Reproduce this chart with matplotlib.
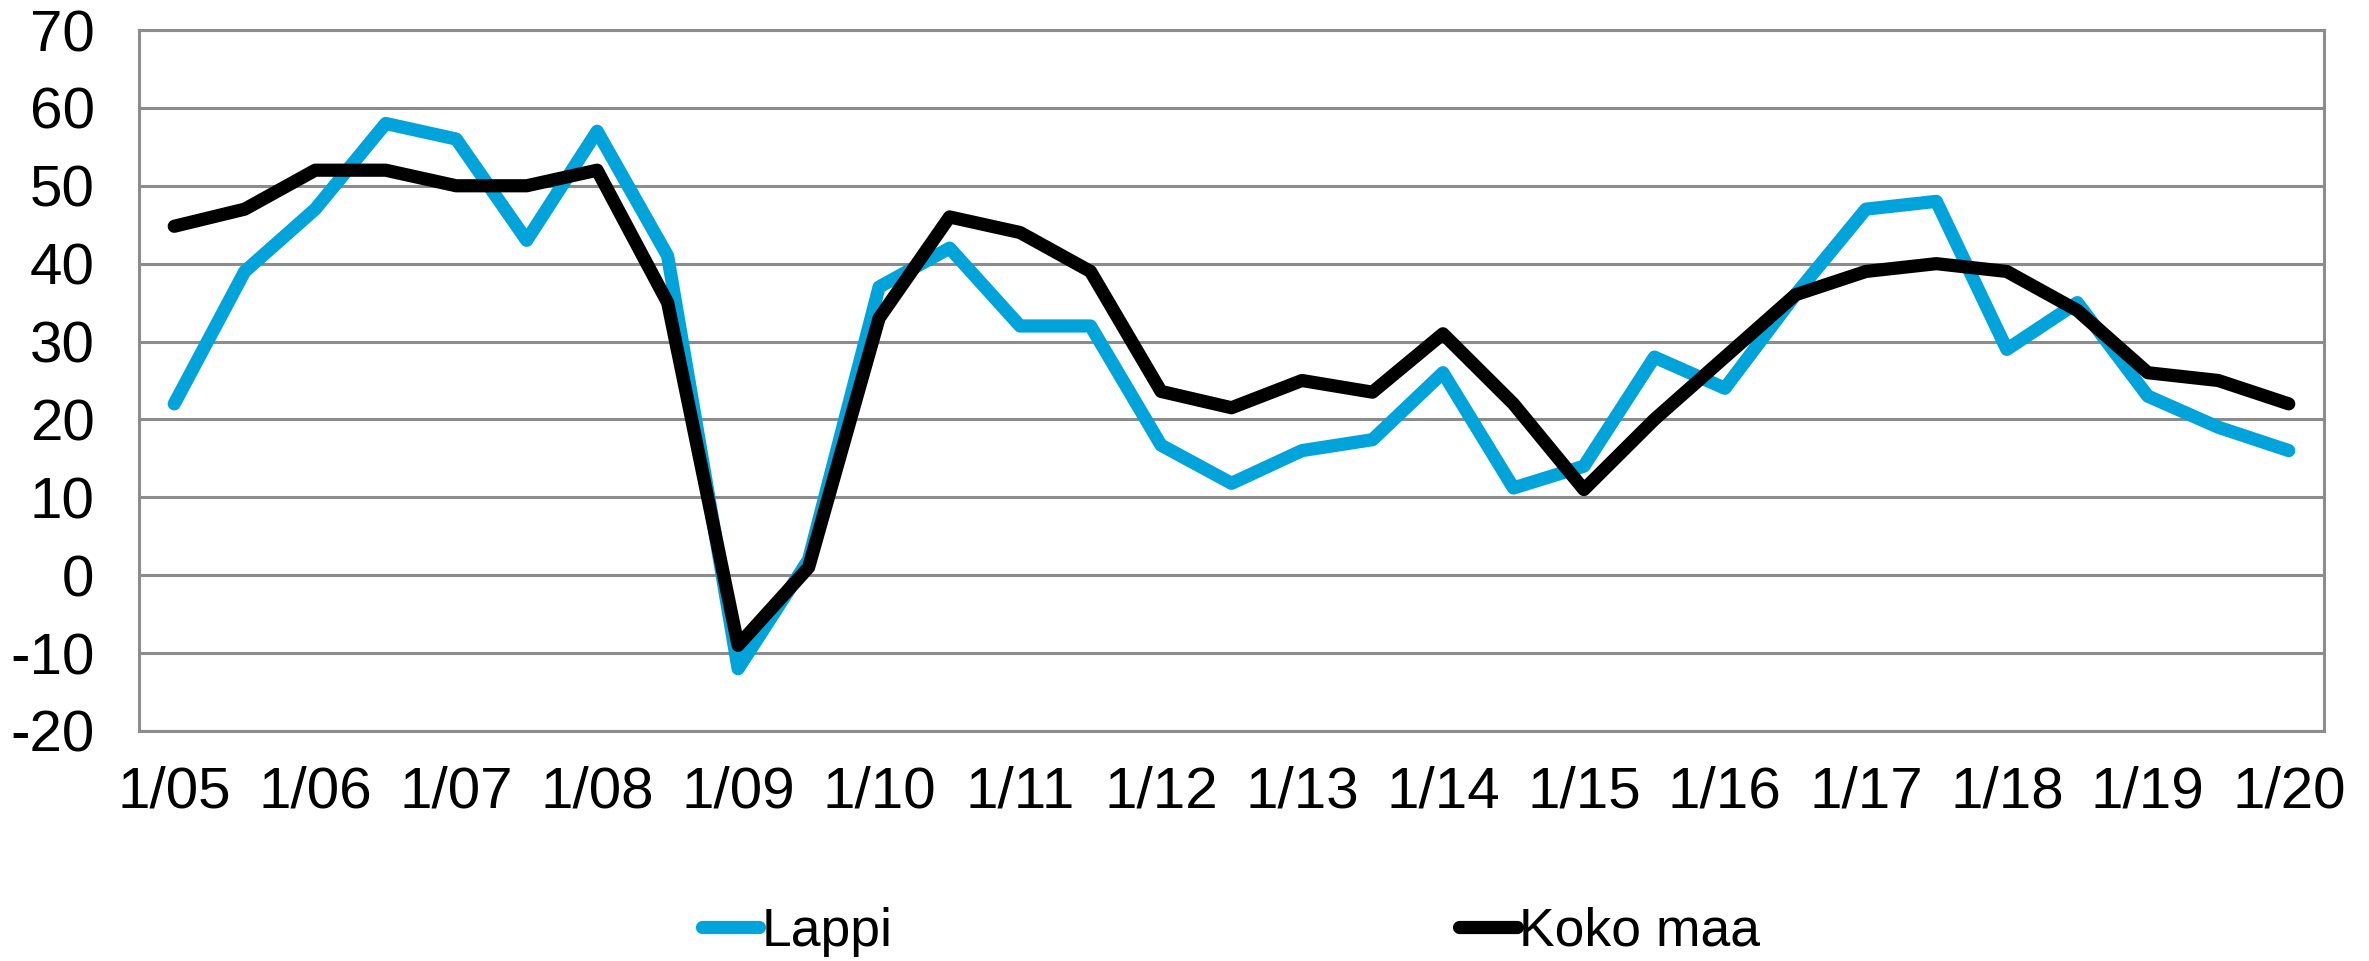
import matplotlib
matplotlib.use("Agg")
import matplotlib.pyplot as plt

plt.rcParams["font.family"] = ["Liberation Sans", "DejaVu Sans"]
plt.rcParams["axes.unicode_minus"] = False

# half-year observations, 1/05 ... 1/20
periods = [f"{m}/{y:02d}" for y in range(5, 21) for m in (1, 7)][:31]
year_labels = [f"1/{y:02d}" for y in range(5, 21)]

lappi = [22, 39, 47, 58, 56, 43, 57, 41, -12, 2, 37, 42, 32, 32, 16.7, 11.8,
         16, 17.4, 26, 11.2, 14, 28, 24, 36, 47, 48, 29, 35, 23, 19, 16]
koko_maa = [44.8, 47, 52, 52, 50, 50, 52, 35, -9, 1, 33, 46, 44, 39, 23.6, 21.5,
            25, 23.5, 31, 22, 11, 20, 28, 36, 39, 40, 39, 34, 26, 25, 22]

LAPPI_COLOR = "#00A3DA"
GRID_COLOR = "#8C8C8C"

fig = plt.figure(figsize=(23.69, 9.61), dpi=100)
ax = fig.add_axes([139 / 2369, 1 - 731 / 961, (2324 - 139) / 2369, (731 - 30) / 961])

x = list(range(len(periods)))
ax.plot(x, lappi, color=LAPPI_COLOR, linewidth=9.5, label="Lappi",
        solid_capstyle="round", solid_joinstyle="round")
ax.plot(x, koko_maa, color="black", linewidth=9.5, label="Koko maa",
        solid_capstyle="round", solid_joinstyle="round")

ax.set_xlim(-0.5, len(periods) - 0.5)
ax.set_ylim(-20, 70)
ax.set_yticks(range(-20, 71, 10))
ax.set_xticks(x[::2])
ax.set_xticklabels(year_labels)

ax.grid(axis="y", color=GRID_COLOR, linewidth=2.2)
ax.set_axisbelow(True)
for side in ("left", "right", "top", "bottom"):
    ax.spines[side].set_color(GRID_COLOR)
    ax.spines[side].set_linewidth(2.2)

ax.tick_params(axis="both", length=0, labelsize=42)
ax.tick_params(axis="x", pad=25)
ax.tick_params(axis="y", pad=32)

fig.legend(loc="center", bbox_to_anchor=(1231 / 2369, 1 - 932 / 961), ncol=2,
           frameon=False, fontsize=38.5, handlelength=1.07, handletextpad=0.05,
           columnspacing=10.6)

fig.savefig("out.png", dpi=100, facecolor="white")
